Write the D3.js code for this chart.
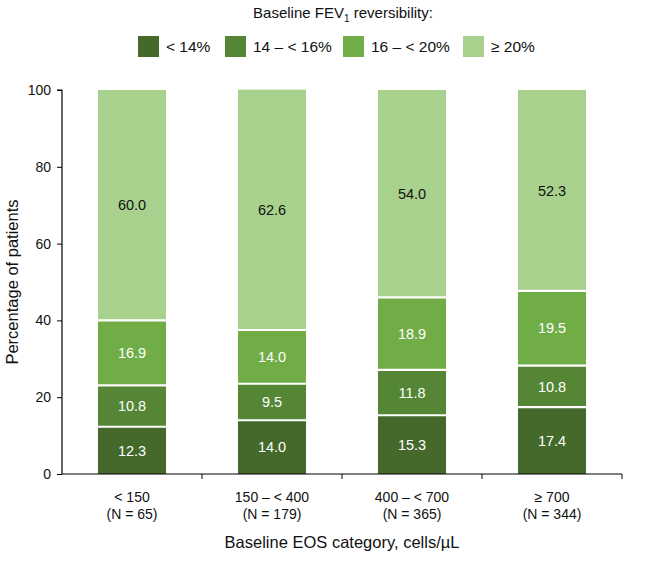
<!DOCTYPE html>
<html><head><meta charset="utf-8">
<script src="https://cdn.jsdelivr.net/npm/d3@7"></script>
<style>body{margin:0;background:#fff}svg{display:block;font-family:"Liberation Sans",Arial,sans-serif}</style>
</head><body>
<svg id="chart" width="649" height="571"></svg>
<script>
const categories = ["< 150", "150 – < 400", "400 – < 700", "≥ 700"];
const categoryN = ["(N = 65)", "(N = 179)", "(N = 365)", "(N = 344)"];
const seriesNames = ["< 14%", "14 – < 16%", "16 – < 20%", "≥ 20%"];
const lt14 = [12.3, 14.0, 15.3, 17.4];
const r14to16 = [10.8, 9.5, 11.8, 10.8];
const r16to20 = [16.9, 14.0, 18.9, 19.5];
const ge20 = [60.0, 62.6, 54.0, 52.3];
const yTicks = [0, 20, 40, 60, 80, 100];
const colors = ["#44692b", "#558636", "#70ad47", "#a9d18e"];
const labelColors = ["#fff", "#fff", "#fff", "#111"];

const seriesValues = [lt14, r14to16, r16to20, ge20];
const table = categories.map((c, i) => {
  const o = {cat: c};
  seriesNames.forEach((s, j) => o[s] = seriesValues[j][i]);
  return o;
});
const stacked = d3.stack().keys(seriesNames)(table);

const svg = d3.select("#chart");
const x = d3.scaleBand().domain(categories).range([62, 622]).paddingInner(0.514).paddingOuter(0.257);
const xAxisBand = d3.scaleBand().domain(categories).range([62, 622]);
const y = d3.scaleLinear().domain([0, 100]).range([474, 90]);

// bars
const g = svg.append("g");
stacked.forEach((layer, j) => {
  g.selectAll(null).data(layer).enter().append("rect")
    .attr("x", d => x(d.data.cat))
    .attr("width", x.bandwidth())
    .attr("y", d => y(d[1]))
    .attr("height", d => y(d[0]) - y(d[1]))
    .attr("fill", colors[j]);
});
// white separators between segments
stacked.slice(0, stacked.length - 1).forEach(layer => {
  g.selectAll(null).data(layer).enter().append("line")
    .attr("x1", d => x(d.data.cat))
    .attr("x2", d => x(d.data.cat) + x.bandwidth())
    .attr("y1", d => y(d[1])).attr("y2", d => y(d[1]))
    .attr("stroke", "#fff").attr("stroke-width", 2.2);
});
stacked.forEach((layer, j) => {
  g.selectAll(null).data(layer).enter().append("text")
    .attr("x", d => x(d.data.cat) + x.bandwidth() / 2)
    .attr("y", d => y((d[0] + d[1]) / 2))
    .attr("dy", "0.36em")
    .attr("text-anchor", "middle")
    .attr("font-size", 14.5)
    .attr("fill", labelColors[j])
    .text(d => (d.data[layer.key]).toFixed(1));
});

// y axis
const yAxis = svg.append("g").attr("transform", "translate(62,0)")
  .call(d3.axisLeft(y).tickValues(yTicks).tickSize(5).tickPadding(6));
yAxis.select(".domain").attr("stroke", "#000").attr("stroke-width", 1.2).attr("d", `M-5,${y(100)}H0V${y(0)}`);
yAxis.selectAll(".tick line").attr("stroke", "#000");
yAxis.selectAll(".tick text").attr("font-size", 14).attr("fill", "#111").attr("font-family", "Liberation Sans, Arial, sans-serif");

// x axis
const xAxis = svg.append("g").attr("transform", `translate(0,${y(0)})`);
xAxis.append("line").attr("x1", 62).attr("x2", 622).attr("y1", 0).attr("y2", 0).attr("stroke", "#000").attr("stroke-width", 1.2);
categories.forEach(c => {
  const xe = xAxisBand(c) + xAxisBand.bandwidth();
  xAxis.append("line").attr("x1", xe).attr("x2", xe).attr("y1", 0).attr("y2", 5).attr("stroke", "#000");
});
categories.forEach((c, i) => {
  const cx = x(c) + x.bandwidth() / 2;
  svg.append("text").attr("x", cx).attr("y", 502).attr("text-anchor", "middle")
    .attr("font-size", 14).attr("fill", "#111").text(c);
  svg.append("text").attr("x", cx).attr("y", 519).attr("text-anchor", "middle")
    .attr("font-size", 14).attr("fill", "#111").text(categoryN[i]);
});
svg.append("text").attr("x", 342).attr("y", 548).attr("text-anchor", "middle")
  .attr("font-size", 16.5).attr("fill", "#111").text("Baseline EOS category, cells/µL");

// y title
svg.append("text").attr("transform", `translate(18,${(y(0) + y(100)) / 2}) rotate(-90)`)
  .attr("text-anchor", "middle").attr("font-size", 16.5).attr("fill", "#111")
  .text("Percentage of patients");

// legend title
const lt = svg.append("text").attr("x", 343).attr("y", 18).attr("text-anchor", "middle")
  .attr("font-size", 15).attr("fill", "#111");
lt.append("tspan").text("Baseline FEV");
lt.append("tspan").attr("font-size", 10).attr("dy", 4).text("1");
lt.append("tspan").attr("dy", -4).text(" reversibility:");

// legend
const legX = [138, 225, 343, 463];
seriesNames.forEach((s, j) => {
  svg.append("rect").attr("x", legX[j]).attr("y", 36).attr("width", 21).attr("height", 21).attr("fill", colors[j]);
  svg.append("text").attr("x", legX[j] + 28).attr("y", 46.5).attr("dy", "0.36em")
    .attr("font-size", 15.5).attr("fill", "#111").text(s);
});
</script>
</body></html>
